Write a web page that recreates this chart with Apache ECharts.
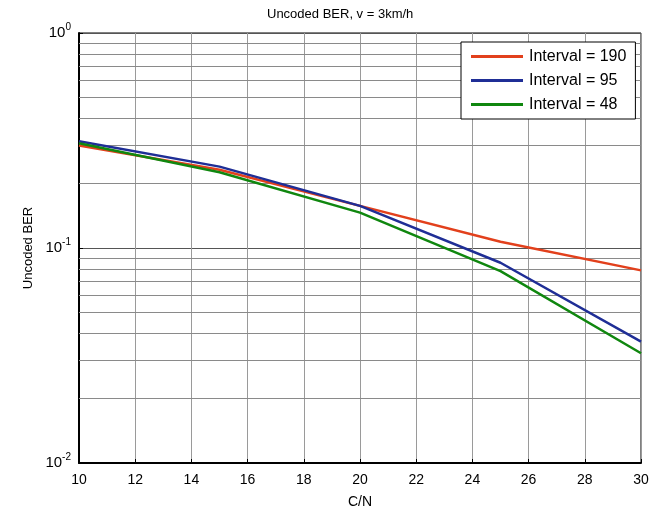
<!DOCTYPE html>
<html>
<head>
<meta charset="utf-8">
<script src="https://cdn.jsdelivr.net/npm/echarts@6/dist/echarts.min.js"></script>
<style>
  html, body { margin: 0; padding: 0; background: #fff; }
  #chart { width: 652px; height: 507px; }
</style>
</head>
<body>
<div id="chart"></div>
<script>
// C/N values (x axis)
var cn = [10, 15, 20, 25, 30]
// uncoded BER
var ber190 = [0.300, 0.231, 0.157, 0.107, 0.0787]
var ber95 = [0.314, 0.239, 0.157, 0.0854, 0.0367]
var ber48 = [0.307, 0.225, 0.146, 0.078, 0.0324]
var seriesNames = ['Interval = 190', 'Interval = 95', 'Interval = 48']
var colors = ['#e2401c', '#1f2e96', '#10870f']
// minor log grid lines (2..9 in each decade)
var minorGrid = [0.02, 0.03, 0.04, 0.05, 0.06, 0.07, 0.08, 0.09, 0.2, 0.3, 0.4, 0.5, 0.6, 0.7, 0.8, 0.9]

var font = 'Liberation Sans, Arial, sans-serif'

function pairs (ys) {
  var out = []
  for (var i = 0; i < cn.length; i++) out.push([cn[i], ys[i]])
  return out
}

var chart = echarts.init(document.getElementById('chart'))

var option = {
  animation: false,
  backgroundColor: '#fff',
  textStyle: { fontFamily: font },
  title: {
    text: 'Uncoded BER, v = 3km/h',
    left: 262,
    top: 3,
    textStyle: { fontSize: 13, fontWeight: 'normal', color: '#000', fontFamily: font }
  },
  grid: {
    left: 79,
    right: 11,
    top: 33,
    bottom: 44,
    outerBoundsMode: 'none',
    containLabel: false,
    show: true,
    borderColor: '#000',
    borderWidth: 1
  },
  legend: {
    orient: 'vertical',
    left: 461,
    top: 42,
    z: 20,
    backgroundColor: '#fff',
    borderColor: '#000',
    borderWidth: 1,
    padding: [6, 9, 6, 10],
    itemGap: 7,
    itemWidth: 52,
    itemHeight: 3,
    icon: 'rect',
    data: seriesNames,
    textStyle: { fontSize: 16, lineHeight: 17, color: '#000', fontFamily: font, padding: [0, 0, 0, 1] }
  },
  xAxis: {
    type: 'value',
    min: 10,
    max: 30,
    interval: 2,
    name: 'C/N',
    nameLocation: 'middle',
    nameGap: 32,
    nameTextStyle: { fontSize: 14, color: '#000' },
    axisLine: { lineStyle: { color: '#000', width: 2 } },
    axisTick: { inside: true, length: 4, lineStyle: { color: '#000' } },
    axisLabel: { fontSize: 14, color: '#000', margin: 10 },
    splitLine: { show: true, lineStyle: { color: '#9a9a9a', width: 1 } }
  },
  yAxis: {
    type: 'log',
    logBase: 10,
    min: 0.01,
    max: 1,
    name: 'Uncoded BER',
    nameLocation: 'middle',
    nameGap: 42,
    nameRotate: 90,
    nameTextStyle: { fontSize: 13, color: '#000' },
    axisLine: { lineStyle: { color: '#000', width: 2 } },
    axisTick: { inside: true, length: 4, lineStyle: { color: '#000' } },
    axisLabel: {
      margin: 8,
      formatter: function (v) {
        var e = Math.round(Math.log10(v))
        return '{b|10}{s|' + e + '}'
      },
      rich: {
        b: { fontSize: 15, color: '#000', fontFamily: font },
        s: { fontSize: 10, color: '#000', fontFamily: font, verticalAlign: 'bottom', padding: [0, 0, 11, 0] }
      }
    },
    splitLine: { show: true, lineStyle: { color: '#555', width: 1 } }
  },
  series: [
    {
      name: 'minor grid',
      type: 'line',
      data: [],
      silent: true,
      z: 1,
      markLine: {
        silent: true,
        symbol: 'none',
        label: { show: false },
        lineStyle: { type: 'solid', color: '#8a8a8a', width: 1 },
        data: minorGrid.map(function (v) { return { yAxis: v } })
      }
    },
    {
      name: seriesNames[0],
      type: 'line',
      data: pairs(ber190),
      showSymbol: false,
      z: 5,
      itemStyle: { color: colors[0] },
      lineStyle: { width: 2.5, color: colors[0] }
    },
    {
      name: seriesNames[1],
      type: 'line',
      data: pairs(ber95),
      showSymbol: false,
      z: 5,
      itemStyle: { color: colors[1] },
      lineStyle: { width: 2.5, color: colors[1] }
    },
    {
      name: seriesNames[2],
      type: 'line',
      data: pairs(ber48),
      showSymbol: false,
      z: 5,
      itemStyle: { color: colors[2] },
      lineStyle: { width: 2.5, color: colors[2] }
    }
  ]
}

chart.setOption(option)
</script>
</body>
</html>
